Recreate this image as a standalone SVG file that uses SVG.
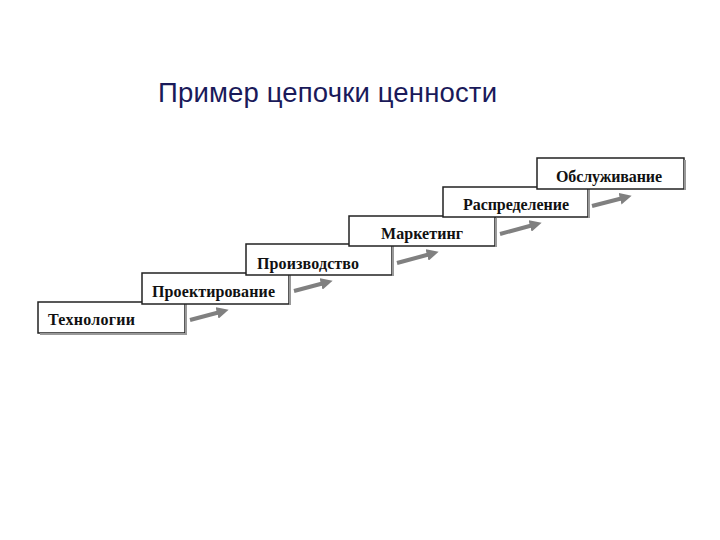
<svg xmlns="http://www.w3.org/2000/svg" width="720" height="540" viewBox="0 0 720 540">
<style>
.box{fill:#fff;stroke:#222;stroke-width:1.5}
.sh{fill:none;stroke:#999;stroke-width:2}
.lb{font-family:"Liberation Serif",serif;font-weight:bold;font-size:16px;fill:#111}
.ar{stroke:#808080;stroke-width:4;fill:none;marker-end:url(#ah)}
</style>
<defs><marker id="ah" viewBox="0 0 10 10" refX="6" refY="5" markerWidth="3" markerHeight="3" orient="auto" markerUnits="strokeWidth"><path d="M0,0L10,5L0,10z" fill="#808080"/></marker></defs>
<rect width="720" height="540" fill="#fff"/>
<text x="158" y="102" font-family="Liberation Sans,Arial,sans-serif" font-size="27.5" fill="#1a1a5a" textLength="339">Пример цепочки ценности</text>
<g id="n1"><rect class="box" x="38" y="302" width="147" height="31"/><path class="sh" d="M186,304V334H40"/><text class="lb" x="48" y="325" textLength="87">Технологии</text></g>
<g id="n2"><rect class="box" x="142" y="273" width="147" height="31"/><path class="sh" d="M290,275V305"/><text class="lb" x="152" y="297" textLength="123">Проектирование</text></g>
<g id="n3"><rect class="box" x="246" y="244" width="146" height="31"/><path class="sh" d="M393,246V276"/><text class="lb" x="257" y="269" textLength="102">Производство</text></g>
<g id="n4"><rect class="box" x="349" y="216" width="146" height="30"/><path class="sh" d="M496,218V247"/><text class="lb" x="381" y="239" textLength="82">Маркетинг</text></g>
<g id="n5"><rect class="box" x="443" y="187" width="145" height="30"/><path class="sh" d="M589,189V218"/><text class="lb" x="463" y="210" textLength="106">Распределение</text></g>
<g id="n6"><rect class="box" x="537" y="158" width="147" height="31"/><path class="sh" d="M685,160V190"/><text class="lb" x="556" y="182" textLength="106">Обслуживание</text></g>
<g id="connectors">
<path class="ar" d="M190,320L224,311"/>
<path class="ar" d="M294,291L328,282"/>
<path class="ar" d="M397,263L434,253"/>
<path class="ar" d="M500,234L537,224"/>
<path class="ar" d="M592,206L627,197"/>
</g>
</svg>
